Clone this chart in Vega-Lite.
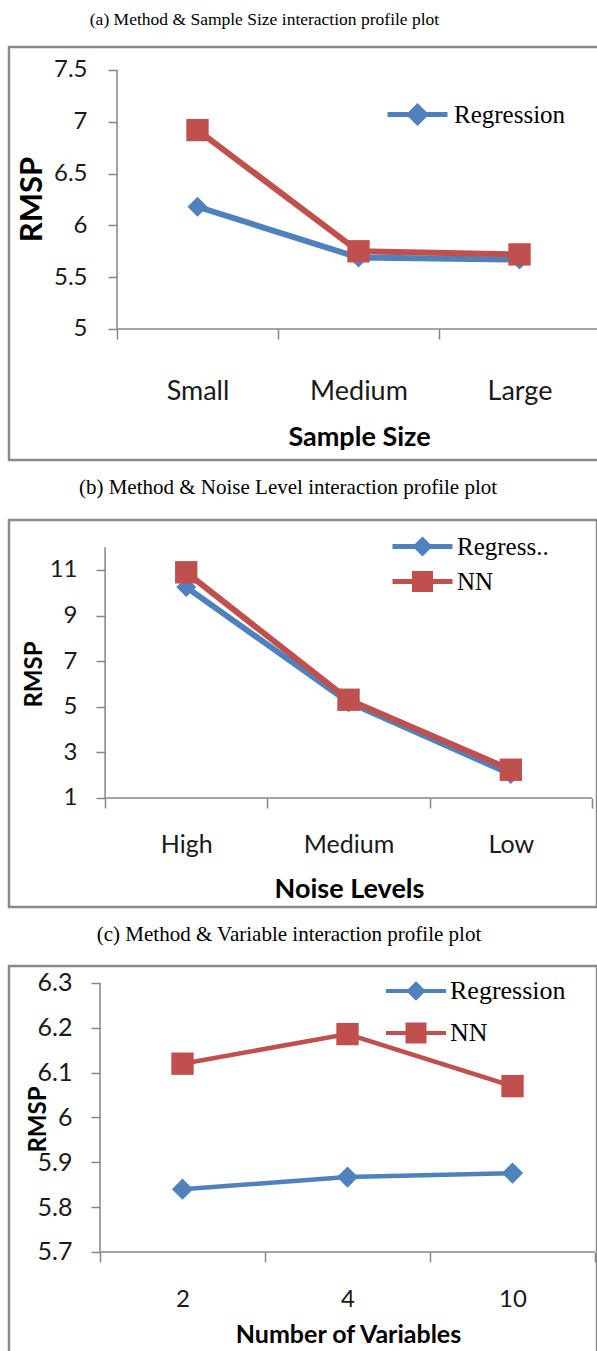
{
  "padding": {"left": 7, "top": 9, "right": 0, "bottom": 0},
  "background": "white",
  "spacing": 13,
  "config": {
    "view": {"stroke": "#8a8a8a", "strokeWidth": 2.5},
    "title": {"font": "Liberation Serif", "fontWeight": "normal", "color": "#000", "anchor": "middle", "offset": 18},
    "axis": {"domain": false, "grid": false, "tickColor": "#868686", "tickWidth": 1.5, "labelColor": "#1a1a1a", "labelFont": "Lato", "titleFont": "Lato", "titleFontWeight": "bold", "titleColor": "#000", "labelOverlap": false, "labelFlush": false}
  },
  "resolve": {"scale": {"color": "independent", "x": "independent", "y": "independent"}, "legend": {"color": "independent"}},
  "datasets": {
    "a": [
      {"method": "Regression", "cat": "Small", "idx": 0, "rmsp": 6.18},
      {"method": "Regression", "cat": "Medium", "idx": 1, "rmsp": 5.69},
      {"method": "Regression", "cat": "Large", "idx": 2, "rmsp": 5.67},
      {"method": "NN", "cat": "Small", "idx": 0, "rmsp": 6.92},
      {"method": "NN", "cat": "Medium", "idx": 1, "rmsp": 5.75},
      {"method": "NN", "cat": "Large", "idx": 2, "rmsp": 5.72}
    ],
    "b": [
      {"method": "Regression", "cat": "High", "idx": 0, "rmsp": 10.25},
      {"method": "Regression", "cat": "Medium", "idx": 1, "rmsp": 5.2},
      {"method": "Regression", "cat": "Low", "idx": 2, "rmsp": 2.05},
      {"method": "NN", "cat": "High", "idx": 0, "rmsp": 10.9},
      {"method": "NN", "cat": "Medium", "idx": 1, "rmsp": 5.31},
      {"method": "NN", "cat": "Low", "idx": 2, "rmsp": 2.24}
    ],
    "c": [
      {"method": "Regression", "cat": "2", "idx": 0, "rmsp": 5.84},
      {"method": "Regression", "cat": "4", "idx": 1, "rmsp": 5.867},
      {"method": "Regression", "cat": "10", "idx": 2, "rmsp": 5.876},
      {"method": "NN", "cat": "2", "idx": 0, "rmsp": 6.12},
      {"method": "NN", "cat": "4", "idx": 1, "rmsp": 6.186},
      {"method": "NN", "cat": "10", "idx": 2, "rmsp": 6.07}
    ]
  },
  "vconcat": [
    {
      "title": {"text": "(a) Method & Sample Size interaction profile plot", "fontSize": 17.5, "dx": -40, "offset": 19},
      "width": 591, "height": 413,
      "data": {"name": "a"},
      "layer": [
        {"data": {"values": [{}]}, "mark": {"type": "rule", "color": "#868686", "strokeWidth": 1.5},
         "encoding": {"x": {"datum": -0.5, "type": "quantitative", "scale": {"domain": [-1.1708, 2.5], "nice": false, "zero": false}},
                      "y": {"datum": 5, "type": "quantitative", "scale": {"domain": [3.7355, 7.722], "nice": false, "zero": false}},
                      "y2": {"datum": 7.5}}},
        {"data": {"values": [{}]}, "mark": {"type": "rule", "color": "#868686", "strokeWidth": 1.5},
         "encoding": {"x": {"datum": -0.5, "type": "quantitative", "scale": {"domain": [-1.1708, 2.5], "nice": false, "zero": false}},
                      "x2": {"datum": 2.5},
                      "y": {"datum": 5, "type": "quantitative", "scale": {"domain": [3.7355, 7.722], "nice": false, "zero": false}}}},
        {"transform": [{"filter": "datum.method === 'Regression'"}],
         "mark": {"type": "line", "strokeWidth": 6},
         "encoding": {
           "x": {"field": "idx", "type": "quantitative", "scale": {"domain": [-1.1708, 2.5], "nice": false, "zero": false},
                 "axis": {"orient": "bottom", "offset": -131, "values": [-0.5, 0, 0.5, 1, 1.5, 2, 2.5],
                          "labelExpr": "datum.value === 0 ? 'Small' : datum.value === 1 ? 'Medium' : datum.value === 2 ? 'Large' : ''",
                          "tickSize": 10, "tickOpacity": {"condition": {"test": "datum.value % 1 === 0", "value": 0}, "value": 1},
                          "labelPadding": 52, "labelBaseline": "middle", "labelFontSize": 27,
                          "title": "Sample Size", "titleFontSize": 27, "titleX": 350, "titleY": 108, "titleBaseline": "middle", "titleAlign": "center"}},
           "y": {"field": "rmsp", "type": "quantitative", "scale": {"domain": [3.7355, 7.722], "nice": false, "zero": false},
                 "axis": {"orient": "left", "offset": -108, "values": [5, 5.5, 6, 6.5, 7, 7.5], "labelExpr": "'' + datum.value",
                          "tickSize": 9, "labelPadding": 21, "labelFontSize": 24, "labelBaseline": "middle",
                          "title": "RMSP", "titleFontSize": 31, "titleX": -85, "titleY": 152, "titleAngle": -90, "titleAlign": "center", "titleBaseline": "middle"}},
           "color": {"field": "method", "type": "nominal", "scale": {"domain": ["Regression", "NN"], "range": ["#4F81BD", "#C0504D"]},
                     "legend": {"orient": "none", "legendX": 396, "legendY": 55, "values": ["Regression"], "title": null, "symbolSize": 400,
                                "labelFont": "Liberation Serif", "labelFontSize": 25, "labelColor": "#000", "labelOffset": 24, "padding": 0, "rowPadding": 8,
                                "encode": {"symbols": {"update": {
                                  "shape": {"signal": "datum.value === 'NN' ? 'M-3,0H3M-0.9,-0.9H0.9V0.9H-0.9Z' : 'M-3,0H3M0,-0.8L0.8,0L0,0.8L-0.8,0Z'"},
                                  "fill": {"signal": "datum.value === 'NN' ? '#C0504D' : '#4F81BD'"},
                                  "stroke": {"signal": "datum.value === 'NN' ? '#C0504D' : '#4F81BD'"},
                                  "strokeWidth": {"value": 5}, "opacity": {"value": 1}}}}}}
         }},
        {"transform": [{"filter": "datum.method === 'Regression'"}],
         "mark": {"type": "point", "shape": "diamond", "filled": true, "size": 400, "opacity": 1, "strokeWidth": 0},
         "encoding": {
           "x": {"field": "idx", "type": "quantitative", "scale": {"domain": [-1.1708, 2.5], "nice": false, "zero": false}},
           "y": {"field": "rmsp", "type": "quantitative", "scale": {"domain": [3.7355, 7.722], "nice": false, "zero": false}},
           "color": {"field": "method", "type": "nominal", "scale": {"domain": ["Regression", "NN"], "range": ["#4F81BD", "#C0504D"]}, "legend": null}}},
        {"transform": [{"filter": "datum.method === 'NN'"}],
         "mark": {"type": "line", "strokeWidth": 6},
         "encoding": {
           "x": {"field": "idx", "type": "quantitative", "scale": {"domain": [-1.1708, 2.5], "nice": false, "zero": false}},
           "y": {"field": "rmsp", "type": "quantitative", "scale": {"domain": [3.7355, 7.722], "nice": false, "zero": false}},
           "color": {"field": "method", "type": "nominal", "scale": {"domain": ["Regression", "NN"], "range": ["#4F81BD", "#C0504D"]}, "legend": null}}},
        {"transform": [{"filter": "datum.method === 'NN'"}],
         "mark": {"type": "point", "shape": "square", "filled": true, "size": 500, "opacity": 1, "strokeWidth": 0},
         "encoding": {
           "x": {"field": "idx", "type": "quantitative", "scale": {"domain": [-1.1708, 2.5], "nice": false, "zero": false}},
           "y": {"field": "rmsp", "type": "quantitative", "scale": {"domain": [3.7355, 7.722], "nice": false, "zero": false}},
           "color": {"field": "method", "type": "nominal", "scale": {"domain": ["Regression", "NN"], "range": ["#4F81BD", "#C0504D"]}, "legend": null}}}
      ]
    },
    {
      "title": {"text": "(b) Method & Noise Level interaction profile plot", "fontSize": 21, "dx": -15, "offset": 22},
      "width": 588, "height": 387,
      "data": {"name": "b"},
      "layer": [
        {"data": {"values": [{}]}, "mark": {"type": "rule", "color": "#868686", "strokeWidth": 1.5},
         "encoding": {"x": {"datum": -0.5, "type": "quantitative", "scale": {"domain": [-1.092, 2.531], "nice": false, "zero": false}},
                      "y": {"datum": 1, "type": "quantitative", "scale": {"domain": [-3.781, 13.193], "nice": false, "zero": false}},
                      "y2": {"datum": 12}}},
        {"data": {"values": [{}]}, "mark": {"type": "rule", "color": "#868686", "strokeWidth": 1.5},
         "encoding": {"x": {"datum": -0.5, "type": "quantitative", "scale": {"domain": [-1.092, 2.531], "nice": false, "zero": false}},
                      "x2": {"datum": 2.5},
                      "y": {"datum": 1, "type": "quantitative", "scale": {"domain": [-3.781, 13.193], "nice": false, "zero": false}}}},
        {"transform": [{"filter": "datum.method === 'Regression'"}],
         "mark": {"type": "line", "strokeWidth": 6},
         "encoding": {
           "x": {"field": "idx", "type": "quantitative", "scale": {"domain": [-1.092, 2.531], "nice": false, "zero": false},
                 "axis": {"orient": "bottom", "offset": -109, "values": [-0.5, 0, 0.5, 1, 1.5, 2, 2.5],
                          "labelExpr": "datum.value === 0 ? 'High' : datum.value === 1 ? 'Medium' : datum.value === 2 ? 'Low' : ''",
                          "tickSize": 10, "tickOpacity": {"condition": {"test": "datum.value % 1 === 0", "value": 0}, "value": 1},
                          "labelPadding": 36, "labelBaseline": "middle", "labelFontSize": 25,
                          "title": "Noise Levels", "titleFontSize": 27, "titleX": 340, "titleY": 91, "titleBaseline": "middle", "titleAlign": "center"}},
           "y": {"field": "rmsp", "type": "quantitative", "scale": {"domain": [-3.781, 13.193], "nice": false, "zero": false},
                 "axis": {"orient": "left", "offset": -96, "values": [1, 3, 5, 7, 9, 11], "labelExpr": "'' + datum.value",
                          "tickSize": 9, "labelPadding": 19, "labelFontSize": 24, "labelBaseline": "middle",
                          "title": "RMSP", "titleFontSize": 24, "titleX": -71, "titleY": 154, "titleAngle": -90, "titleAlign": "center", "titleBaseline": "middle"}},
           "color": {"field": "method", "type": "nominal", "scale": {"domain": ["Regression", "NN"], "range": ["#4F81BD", "#C0504D"]},
                     "legend": {"orient": "none", "legendX": 401, "legendY": 14, "title": null, "symbolSize": 400,
                                "labelExpr": "datum.label === 'Regression' ? 'Regress..' : datum.label",
                                "labelFont": "Liberation Serif", "labelFontSize": 25, "labelColor": "#000", "labelOffset": 22, "padding": 0, "rowPadding": 0,
                                "encode": {"symbols": {"update": {
                                  "shape": {"signal": "datum.value === 'NN' ? 'M-3,0H3M-0.8,-0.8H0.8V0.8H-0.8Z' : 'M-3,0H3M0,-0.65L0.65,0L0,0.65L-0.65,0Z'"},
                                  "fill": {"signal": "datum.value === 'NN' ? '#C0504D' : '#4F81BD'"},
                                  "stroke": {"signal": "datum.value === 'NN' ? '#C0504D' : '#4F81BD'"},
                                  "strokeWidth": {"value": 5}, "opacity": {"value": 1}}}}}}
         }},
        {"transform": [{"filter": "datum.method === 'Regression'"}],
         "mark": {"type": "point", "shape": "diamond", "filled": true, "size": 400, "opacity": 1, "strokeWidth": 0},
         "encoding": {
           "x": {"field": "idx", "type": "quantitative", "scale": {"domain": [-1.092, 2.531], "nice": false, "zero": false}},
           "y": {"field": "rmsp", "type": "quantitative", "scale": {"domain": [-3.781, 13.193], "nice": false, "zero": false}},
           "color": {"field": "method", "type": "nominal", "scale": {"domain": ["Regression", "NN"], "range": ["#4F81BD", "#C0504D"]}, "legend": null}}},
        {"transform": [{"filter": "datum.method === 'NN'"}],
         "mark": {"type": "line", "strokeWidth": 6},
         "encoding": {
           "x": {"field": "idx", "type": "quantitative", "scale": {"domain": [-1.092, 2.531], "nice": false, "zero": false}},
           "y": {"field": "rmsp", "type": "quantitative", "scale": {"domain": [-3.781, 13.193], "nice": false, "zero": false}},
           "color": {"field": "method", "type": "nominal", "scale": {"domain": ["Regression", "NN"], "range": ["#4F81BD", "#C0504D"]}, "legend": null}}},
        {"transform": [{"filter": "datum.method === 'NN'"}],
         "mark": {"type": "point", "shape": "square", "filled": true, "size": 500, "opacity": 1, "strokeWidth": 0},
         "encoding": {
           "x": {"field": "idx", "type": "quantitative", "scale": {"domain": [-1.092, 2.531], "nice": false, "zero": false}},
           "y": {"field": "rmsp", "type": "quantitative", "scale": {"domain": [-3.781, 13.193], "nice": false, "zero": false}},
           "color": {"field": "method", "type": "nominal", "scale": {"domain": ["Regression", "NN"], "range": ["#4F81BD", "#C0504D"]}, "legend": null}}}
      ]
    },
    {
      "title": {"text": "(c) Method & Variable interaction profile plot", "fontSize": 21, "dx": -14, "offset": 21},
      "width": 588, "height": 387,
      "data": {"name": "c"},
      "layer": [
        {"data": {"values": [{}]}, "mark": {"type": "rule", "color": "#868686", "strokeWidth": 1.5},
         "encoding": {"x": {"datum": -0.5, "type": "quantitative", "scale": {"domain": [-1.0515, 2.512], "nice": false, "zero": false}},
                      "y": {"datum": 5.7, "type": "quantitative", "scale": {"domain": [5.4747, 6.3379], "nice": false, "zero": false}},
                      "y2": {"datum": 6.3}}},
        {"data": {"values": [{}]}, "mark": {"type": "rule", "color": "#868686", "strokeWidth": 1.5},
         "encoding": {"x": {"datum": -0.5, "type": "quantitative", "scale": {"domain": [-1.0515, 2.512], "nice": false, "zero": false}},
                      "x2": {"datum": 2.5},
                      "y": {"datum": 5.7, "type": "quantitative", "scale": {"domain": [5.4747, 6.3379], "nice": false, "zero": false}}}},
        {"transform": [{"filter": "datum.method === 'Regression'"}],
         "mark": {"type": "line", "strokeWidth": 4.5},
         "encoding": {
           "x": {"field": "idx", "type": "quantitative", "scale": {"domain": [-1.0515, 2.512], "nice": false, "zero": false},
                 "axis": {"orient": "bottom", "offset": -101, "values": [-0.5, 0, 0.5, 1, 1.5, 2, 2.5],
                          "labelExpr": "datum.value === 0 ? '2' : datum.value === 1 ? '4' : datum.value === 2 ? '10' : ''",
                          "tickSize": 10, "tickOpacity": {"condition": {"test": "datum.value % 1 === 0", "value": 0}, "value": 1},
                          "labelPadding": 37, "labelBaseline": "middle", "labelFontSize": 24,
                          "title": "Number of Variables", "titleFontSize": 25, "titleX": 339, "titleY": 82, "titleBaseline": "middle", "titleAlign": "center"}},
           "y": {"field": "rmsp", "type": "quantitative", "scale": {"domain": [5.4747, 6.3379], "nice": false, "zero": false},
                 "axis": {"orient": "left", "offset": -91, "values": [5.7, 5.8, 5.9, 6, 6.1, 6.2, 6.3], "labelExpr": "'' + datum.value",
                          "tickSize": 9, "labelPadding": 19, "labelFontSize": 25, "labelBaseline": "middle",
                          "title": "RMSP", "titleFontSize": 24, "titleX": -62, "titleY": 153, "titleAngle": -90, "titleAlign": "center", "titleBaseline": "middle"}},
           "color": {"field": "method", "type": "nominal", "scale": {"domain": ["Regression", "NN"], "range": ["#4F81BD", "#C0504D"]},
                     "legend": {"orient": "none", "legendX": 394, "legendY": 12, "title": null, "symbolSize": 400,
                                "labelFont": "Liberation Serif", "labelFontSize": 26, "labelColor": "#000", "labelOffset": 21, "padding": 0, "rowPadding": 10,
                                "encode": {"symbols": {"update": {
                                  "shape": {"signal": "datum.value === 'NN' ? 'M-3,0H3M-0.85,-0.85H0.85V0.85H-0.85Z' : 'M-3,0H3M0,-0.7L0.7,0L0,0.7L-0.7,0Z'"},
                                  "fill": {"signal": "datum.value === 'NN' ? '#C0504D' : '#4F81BD'"},
                                  "stroke": {"signal": "datum.value === 'NN' ? '#C0504D' : '#4F81BD'"},
                                  "strokeWidth": {"value": 4}, "opacity": {"value": 1}}}}}}
         }},
        {"transform": [{"filter": "datum.method === 'Regression'"}],
         "mark": {"type": "point", "shape": "diamond", "filled": true, "size": 450, "opacity": 1, "strokeWidth": 0},
         "encoding": {
           "x": {"field": "idx", "type": "quantitative", "scale": {"domain": [-1.0515, 2.512], "nice": false, "zero": false}},
           "y": {"field": "rmsp", "type": "quantitative", "scale": {"domain": [5.4747, 6.3379], "nice": false, "zero": false}},
           "color": {"field": "method", "type": "nominal", "scale": {"domain": ["Regression", "NN"], "range": ["#4F81BD", "#C0504D"]}, "legend": null}}},
        {"transform": [{"filter": "datum.method === 'NN'"}],
         "mark": {"type": "line", "strokeWidth": 4.5},
         "encoding": {
           "x": {"field": "idx", "type": "quantitative", "scale": {"domain": [-1.0515, 2.512], "nice": false, "zero": false}},
           "y": {"field": "rmsp", "type": "quantitative", "scale": {"domain": [5.4747, 6.3379], "nice": false, "zero": false}},
           "color": {"field": "method", "type": "nominal", "scale": {"domain": ["Regression", "NN"], "range": ["#4F81BD", "#C0504D"]}, "legend": null}}},
        {"transform": [{"filter": "datum.method === 'NN'"}],
         "mark": {"type": "point", "shape": "square", "filled": true, "size": 500, "opacity": 1, "strokeWidth": 0},
         "encoding": {
           "x": {"field": "idx", "type": "quantitative", "scale": {"domain": [-1.0515, 2.512], "nice": false, "zero": false}},
           "y": {"field": "rmsp", "type": "quantitative", "scale": {"domain": [5.4747, 6.3379], "nice": false, "zero": false}},
           "color": {"field": "method", "type": "nominal", "scale": {"domain": ["Regression", "NN"], "range": ["#4F81BD", "#C0504D"]}, "legend": null}}}
      ]
    }
  ]
}
